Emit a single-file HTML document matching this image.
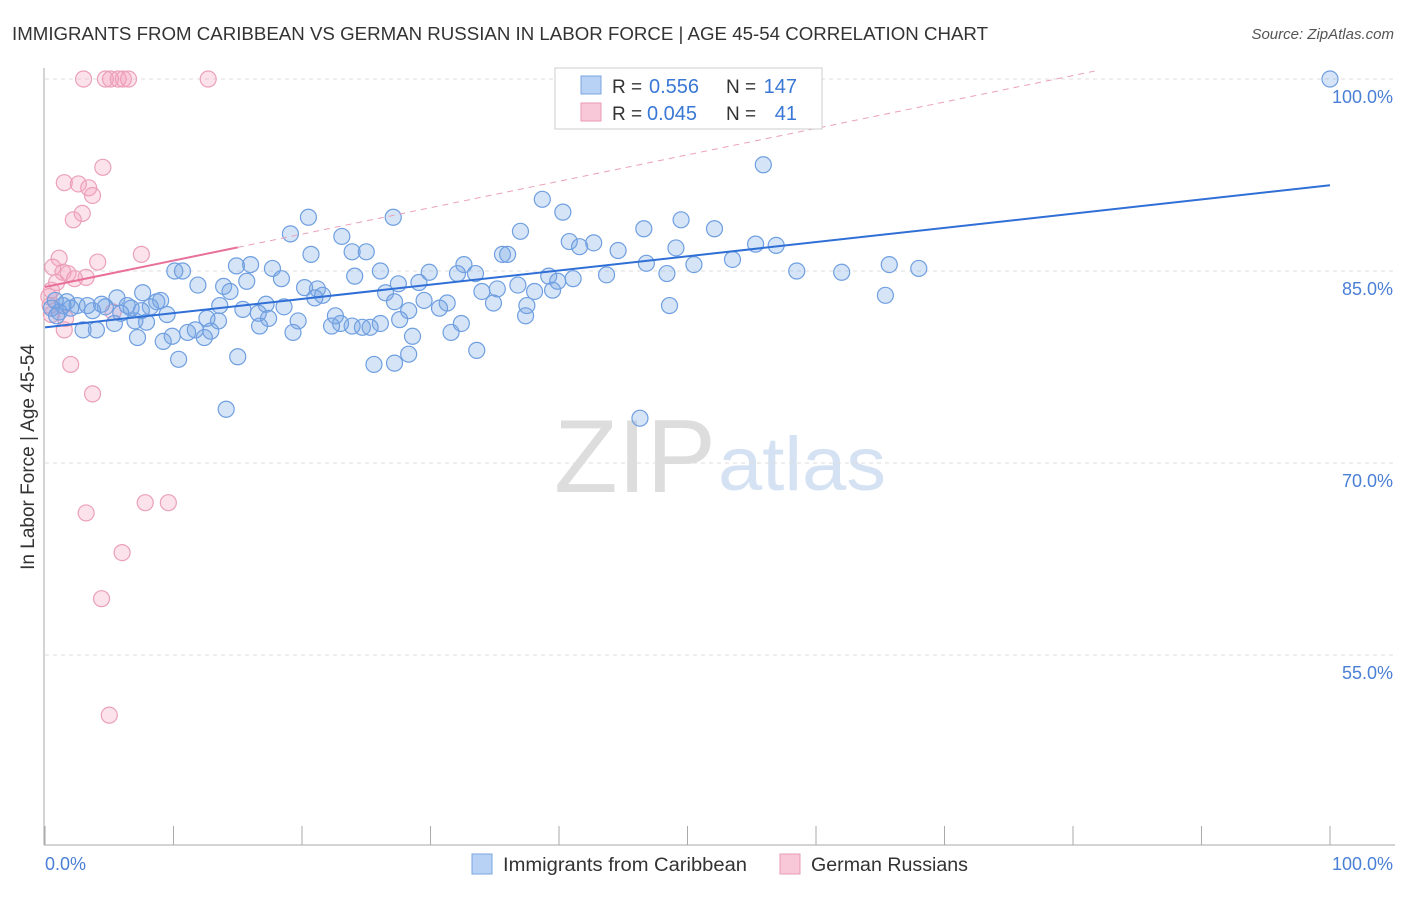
<!DOCTYPE html>
<html><head><meta charset="utf-8">
<style>
body{margin:0;background:#fff;font-family:"Liberation Sans",sans-serif;}
svg text{font-family:"Liberation Sans",sans-serif;}
</style></head>
<body>
<svg id="chart" width="1406" height="892" xmlns="http://www.w3.org/2000/svg">
<text x="12" y="40" font-size="18" fill="#333" textLength="976" lengthAdjust="spacingAndGlyphs">IMMIGRANTS FROM CARIBBEAN VS GERMAN RUSSIAN IN LABOR FORCE | AGE 45-54 CORRELATION CHART</text>
<text x="1394" y="39" font-size="15" fill="#555" text-anchor="end" font-style="italic">Source: ZipAtlas.com</text>
<text x="716" y="492" font-size="104" fill="#ddd" text-anchor="end" font-family="Liberation Serif" textLength="162" lengthAdjust="spacingAndGlyphs">ZIP</text>
<text x="718" y="490" font-size="76" fill="#d5e2f3" textLength="168" lengthAdjust="spacingAndGlyphs">atlas</text>
<g id="grid"></g>
<g id="axes"></g>
<g id="pts"></g>
<g id="trend"></g>
<text transform="translate(34,457) rotate(-90)" font-size="19" fill="#333" text-anchor="middle">In Labor Force | Age 45-54</text>
<text x="45" y="870" font-size="18" fill="#4a7fd6">0.0%</text>
<text x="1393" y="870" font-size="18" fill="#4a7fd6" text-anchor="end">100.0%</text>
<g>
<rect x="555" y="68" width="267" height="61" fill="#fff" stroke="#ccc"/>
<rect x="581" y="76" width="20" height="18" fill="#b8d2f5" stroke="#7aa6e0"/>
<rect x="581" y="103" width="20" height="18" fill="#f9c8d8" stroke="#e89ab4"/>
<text x="612" y="93" font-size="19" fill="#333">R =</text>
<text x="649" y="93" font-size="20" fill="#3a78d6">0.556</text>
<text x="726" y="93" font-size="19" fill="#333">N =</text>
<text x="797" y="93" font-size="20" fill="#3a78d6" text-anchor="end">147</text>
<text x="612" y="120" font-size="19" fill="#333">R =</text>
<text x="647" y="120" font-size="20" fill="#3a78d6">0.045</text>
<text x="726" y="120" font-size="19" fill="#333">N =</text>
<text x="797" y="120" font-size="20" fill="#3a78d6" text-anchor="end">41</text>
</g>
<g>
<rect x="472" y="854" width="20" height="20" fill="#b8d2f5" stroke="#7aa6e0"/>
<text x="503" y="871" font-size="19" fill="#333" textLength="244" lengthAdjust="spacingAndGlyphs">Immigrants from Caribbean</text>
<rect x="780" y="854" width="20" height="20" fill="#f9c8d8" stroke="#e89ab4"/>
<text x="811" y="871" font-size="19" fill="#333" textLength="157" lengthAdjust="spacingAndGlyphs">German Russians</text>
</g>
</svg>
<script>
const yTicks=[100,85,70,55];
const yTickLabels=["100.0%","85.0%","70.0%","55.0%"];
const xTicks=[0,10,20,30,40,50,60,70,80,90,100];
const blueX=[100,55.9,38.7,40.3,20.5,27.1,49.5,19.1,23.1,37.0,46.6,52.1,40.8,42.7,41.6,44.6,49.1,55.3,56.9,23.9,25.0,20.7,35.6,36.0,53.5,46.8,50.5,65.7,68.0,16.0,14.9,17.7,26.1,29.9,32.6,33.5,32.1,58.5,62.0,48.4,43.7,39.2,41.1,39.9,24.1,15.7,18.4,27.5,29.1,10.1,10.7,11.9,13.9,14.4,20.2,21.2,21.6,21.0,26.5,34.0,35.2,36.8,38.1,39.5,65.4,48.6,34.9,37.5,37.4,31.3,30.7,29.5,27.2,28.3,27.6,26.1,24.7,25.3,23.9,23.0,22.6,22.3,19.7,19.3,18.6,17.2,16.6,17.4,16.7,15.4,13.6,13.5,12.6,12.9,12.4,11.7,11.1,9.5,8.7,9.0,8.2,7.6,7.9,7.0,7.2,9.9,9.2,10.4,15.0,5.6,6.4,6.7,5.9,5.4,4.4,4.7,3.7,4.0,2.96,2.5,2.0,1.7,1.4,1.1,0.8,0.5,0.9,3.3,25.6,27.2,28.3,28.6,31.6,32.4,33.6,14.1,46.3,7.5];
const blueY=[100,93.3,90.6,89.6,89.2,89.2,89.0,87.9,87.7,88.1,88.3,88.3,87.3,87.2,86.9,86.6,86.8,87.1,87.0,86.5,86.5,86.3,86.3,86.3,85.9,85.6,85.5,85.5,85.2,85.5,85.4,85.2,85.0,84.9,85.5,84.8,84.8,85.0,84.9,84.8,84.7,84.6,84.4,84.2,84.6,84.2,84.4,84.0,84.1,85.0,85.0,83.9,83.8,83.4,83.7,83.6,83.1,82.9,83.3,83.4,83.6,83.9,83.4,83.5,83.1,82.3,82.5,82.3,81.5,82.5,82.1,82.7,82.6,81.9,81.2,80.9,80.6,80.6,80.7,80.9,81.5,80.7,81.1,80.2,82.2,82.4,81.7,81.3,80.7,82.0,82.3,81.1,81.3,80.3,79.8,80.4,80.2,81.6,82.6,82.7,82.2,83.3,81.0,81.1,79.8,79.9,79.5,78.1,78.3,82.9,82.3,82.1,81.7,80.9,82.4,82.2,81.9,80.4,80.4,82.3,82.1,82.6,82.3,81.8,82.7,82.1,81.5,82.3,77.7,77.8,78.5,79.9,80.2,80.9,78.8,74.2,73.5,81.9];
const pinkX=[3.0,4.7,5.1,5.7,6.1,6.5,12.7,4.5,1.5,2.6,3.4,3.7,2.9,2.2,1.1,7.5,4.1,0.6,1.4,1.8,2.3,3.2,0.9,0.5,0.3,0.4,0.5,1.6,1.5,5.3,2.0,3.7,7.8,9.6,3.2,6.0,4.4,5.0];
const pinkY=[100,100,100,100,100,100,100,93.1,91.9,91.8,91.5,90.9,89.5,89.0,86.0,86.3,85.7,85.3,84.9,84.8,84.4,84.5,84.1,83.5,83.0,82.3,81.6,81.3,80.4,81.8,77.7,75.4,66.9,66.9,66.1,63.0,59.4,50.3];
const blueTrend=[80.6,91.7];
const pinkTrend=[83.75,104.4];

const NS="http://www.w3.org/2000/svg";
const xs=v=>45+v*12.85, ys=v=>79+(100-v)*12.8;
function mk(tag,attrs,parent){const e=document.createElementNS(NS,tag);for(const k in attrs)e.setAttribute(k,attrs[k]);document.getElementById(parent).appendChild(e);return e;}
yTicks.forEach((t,i)=>{
 const g=mk('line',{x1:45,x2:1395,y1:ys(t),y2:ys(t),stroke:'#ddd','stroke-dasharray':'4,4'},'grid');
 
 
 const l=mk('text',{x:1393,y:ys(t)+24,'font-size':18,fill:'#4a7fd6','text-anchor':'end'},'grid');
 l.textContent=yTickLabels[i];
 
 
});
const ax=mk('line',{x1:44,x2:44,y1:68,y2:845,stroke:'#aaa'},'axes');


const bx=mk('line',{x1:44,x2:1395,y1:845,y2:845,stroke:'#aaa'},'axes');


xTicks.forEach(t=>{
 const e=mk('line',{x1:xs(t),x2:xs(t),y1:826,y2:845,stroke:'#aaa'},'axes');
 
 
});
pinkX.forEach((v,i)=>{
 const c=mk('circle',{cx:xs(v),cy:ys(pinkY[i]),r:8,fill:'rgba(244,160,190,0.3)',stroke:'#eba0b9','stroke-width':1.2},'pts');
 
 
});
blueX.forEach((v,i)=>{
 const c=mk('circle',{cx:xs(v),cy:ys(blueY[i]),r:8,fill:'rgba(120,165,230,0.3)',stroke:'#6f9fe0','stroke-width':1.2},'pts');
 
 
});
const bt=mk('line',{x1:xs(0),y1:ys(blueTrend[0]),x2:xs(100),y2:ys(blueTrend[1]),stroke:'#2f6fd6','stroke-width':2},'trend');


const pAt=x=>pinkTrend[0]+(pinkTrend[1]-pinkTrend[0])*x/100;
const ps=mk('line',{x1:xs(0),y1:ys(pAt(0)),x2:xs(15),y2:ys(pAt(15)),stroke:'#e8709a','stroke-width':2},'trend');


const pd=mk('line',{x1:xs(15),y1:ys(pAt(15)),x2:xs(81.7),y2:ys(pAt(81.7)),stroke:'#eba0b9','stroke-width':1,'stroke-dasharray':'6,5'},'trend');


</script>
</body></html>
